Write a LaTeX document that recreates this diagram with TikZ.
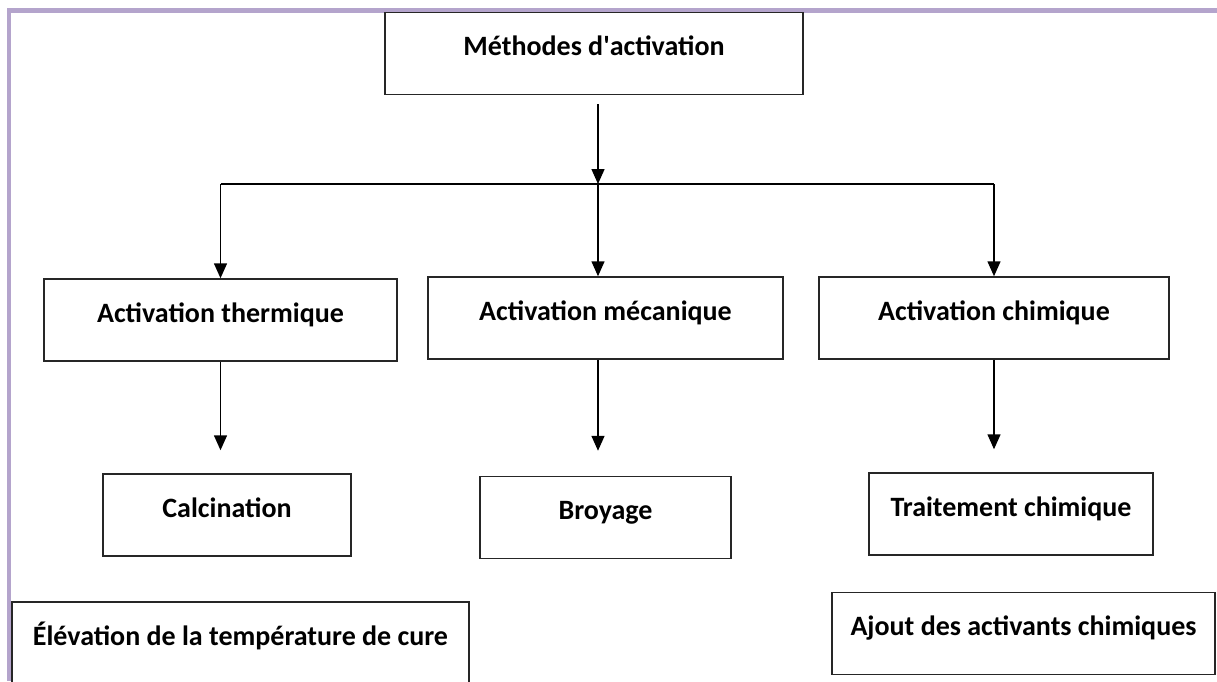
\documentclass[tikz,border=0pt]{standalone}
\usepackage{fontspec}
\setmainfont{Carlito}
\usetikzlibrary{arrows.meta}
\definecolor{lavande}{RGB}{180,164,204}

\begin{document}
\begin{tikzpicture}[x=1pt,y=-1pt]
\tikzstyle{boite}=[draw=black!85,line width=1.5pt,rectangle,inner xsep=0pt,inner ysep=0pt,text height=43pt,text depth=39pt,font=\bfseries\fontsize{28}{33}\selectfont]
\tikzstyle{fleche}=[draw=black,line width=1.5pt,-{Triangle[width=13pt,length=15pt]}]
\clip (0,0) rectangle (1217,681);
\fill [lavande] (7,8) rectangle (1217,12.5);
\fill [lavande] (7,8) rectangle (11,681);
\node [boite,minimum width=418pt] (meth) at (594,53.5) {Méthodes d\textquotesingle activation};
\node [boite,minimum width=353pt] (therm) at (220.5,320) {Activation thermique};
\node [boite,minimum width=355pt] (meca) at (605.5,318) {Activation mécanique};
\node [boite,minimum width=350pt] (chim) at (994,318) {Activation chimique};
\node [boite,minimum width=248pt] (calc) at (227,515) {Calcination};
\node [boite,minimum width=251pt] (broy) at (605.5,517.5) {Broyage};
\node [boite,minimum width=284pt] (trait) at (1011,514) {Traitement chimique};
\node [boite,minimum width=457pt] (elev) at (240.5,643) {Élévation de la température de cure};
\node [boite,minimum width=383pt] (ajout) at (1023.5,633.5) {Ajout des activants chimiques};
\coordinate (split) at (598,184);
\draw [fleche,shorten <=9pt] (split |- meth.south) -- (split);
\draw [black,line width=1.5pt] (split -| therm) -- (split -| chim);
\draw [fleche] (split -| therm) -- (therm);
\draw [fleche] (split) -- (split |- meca.north);
\draw [fleche] (split -| chim) -- (chim);
\draw [fleche,shorten >=23pt] (therm.south) -- (therm.south |- calc.north);
\draw [fleche,shorten >=25pt] (split |- meca.south) -- (split |- broy.north);
\draw [fleche,shorten >=23pt] (chim.south) -- (chim.south |- trait.north);
\end{tikzpicture}
\end{document}
